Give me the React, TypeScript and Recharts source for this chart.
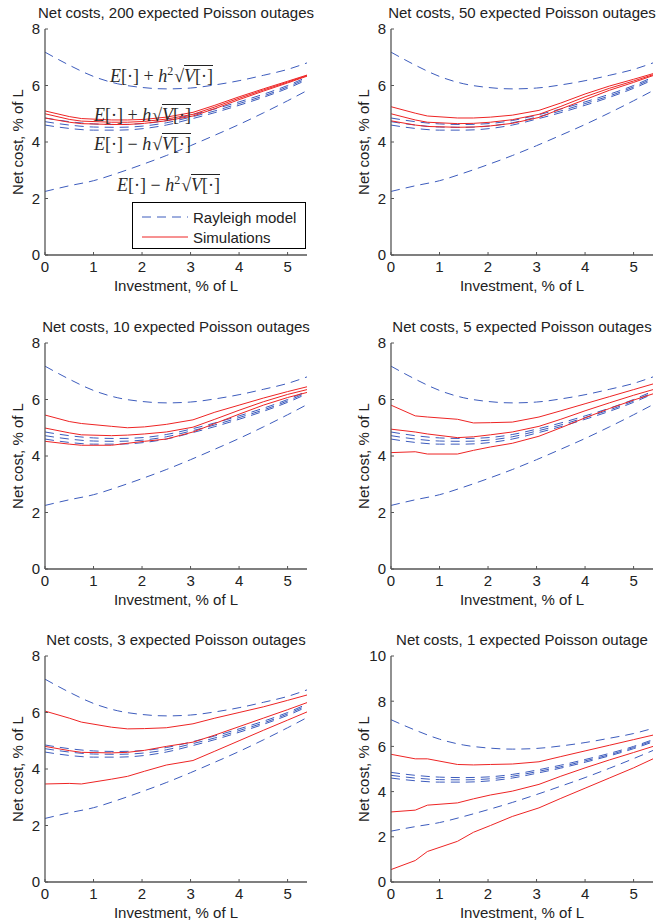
import { LineChart, Line, XAxis, YAxis, Legend } from 'recharts';

const FONT = '"Liberation Sans", Arial, Helvetica, sans-serif';
const MATH_FONT = '"Liberation Serif", "DejaVu Serif", serif';
const BLUE = '#3d5cbd';
const RED = '#ee2424';
const AXIS = '#555';
const INK = '#222';

// Rayleigh model curves (same in every panel)
const modelX = [0, 0.5, 1, 1.5, 2, 2.5, 3, 3.5, 4, 4.5, 5, 5.4];
const modelUpper2 = [7.18, 6.72, 6.32, 6.06, 5.93, 5.88, 5.91, 6.02, 6.17, 6.36, 6.57, 6.8];
const modelUpper1 = [4.85, 4.72, 4.64, 4.62, 4.65, 4.76, 4.95, 5.17, 5.42, 5.69, 6.0, 6.3];
const modelMean = [4.72, 4.6, 4.53, 4.52, 4.56, 4.68, 4.88, 5.1, 5.36, 5.63, 5.95, 6.25];
const modelLower1 = [4.6, 4.48, 4.42, 4.42, 4.47, 4.6, 4.81, 5.04, 5.3, 5.58, 5.9, 6.2];
const modelLower2 = [2.25, 2.45, 2.63, 2.9, 3.2, 3.52, 3.87, 4.24, 4.62, 5.03, 5.46, 5.82];

// Simulation curves
const simX = [0, 0.5, 0.75, 1.37, 1.7, 2.05, 2.5, 3.05, 3.5, 4, 4.5, 5, 5.4];

const sim200Hi = [5.1, 4.9, 4.83, 4.78, 4.78, 4.8, 4.88, 5.05, 5.3, 5.6, 5.88, 6.15, 6.37];
const sim200Mid = [5.0, 4.8, 4.74, 4.7, 4.7, 4.73, 4.81, 4.98, 5.24, 5.55, 5.84, 6.12, 6.35];
const sim200Lo = [4.85, 4.7, 4.65, 4.62, 4.62, 4.66, 4.75, 4.92, 5.18, 5.5, 5.8, 6.09, 6.33];

const sim50Hi = [5.25, 5.02, 4.92, 4.85, 4.85, 4.88, 4.95, 5.12, 5.38, 5.7, 5.98, 6.22, 6.42];
const sim50Mid = [5.0, 4.78, 4.7, 4.65, 4.66, 4.7, 4.79, 4.98, 5.26, 5.6, 5.9, 6.16, 6.38];
const sim50Lo = [4.75, 4.6, 4.55, 4.52, 4.53, 4.57, 4.66, 4.87, 5.17, 5.5, 5.83, 6.11, 6.35];

const sim10Hi = [5.45, 5.22, 5.15, 5.05, 5.0, 5.03, 5.12, 5.28, 5.55, 5.8, 6.05, 6.28, 6.45];
const sim10Mid = [4.99, 4.82, 4.75, 4.72, 4.74, 4.78, 4.85, 5.02, 5.3, 5.62, 5.92, 6.18, 6.35];
const sim10Lo = [4.52, 4.42, 4.38, 4.38, 4.45, 4.52, 4.6, 4.85, 5.15, 5.48, 5.8, 6.07, 6.25];

const sim5Hi = [5.8, 5.42, 5.38, 5.3, 5.17, 5.18, 5.2, 5.38, 5.6, 5.85, 6.1, 6.35, 6.55];
const sim5Mid = [4.95, 4.85, 4.78, 4.65, 4.68, 4.75, 4.85, 5.05, 5.3, 5.6, 5.88, 6.15, 6.35];
const sim5Lo = [4.12, 4.15, 4.07, 4.07, 4.2, 4.32, 4.45, 4.7, 5.0, 5.35, 5.68, 5.98, 6.2];

const sim3Hi = [6.05, 5.8, 5.66, 5.48, 5.42, 5.43, 5.46, 5.6, 5.8, 6.0, 6.2, 6.43, 6.62];
const sim3Mid = [4.8, 4.65, 4.59, 4.57, 4.59, 4.66, 4.8, 4.95, 5.2, 5.5, 5.8, 6.1, 6.35];
const sim3Lo = [3.47, 3.49, 3.47, 3.64, 3.74, 3.92, 4.14, 4.3, 4.63, 5.0, 5.37, 5.73, 6.02];

const sim1Hi = [5.65, 5.45, 5.45, 5.2, 5.18, 5.2, 5.22, 5.32, 5.55, 5.8, 6.05, 6.3, 6.5];
const sim1Mid = [3.1, 3.18, 3.4, 3.5, 3.68, 3.85, 4.02, 4.32, 4.68, 5.05, 5.4, 5.73, 6.0];
const sim1Lo = [0.55, 0.95, 1.35, 1.8, 2.2, 2.5, 2.9, 3.28, 3.7, 4.15, 4.6, 5.05, 5.45];

const xTicks = [0, 1, 2, 3, 4, 5];
const yTicks8 = [0, 2, 4, 6, 8];
const yTicks10 = [0, 2, 4, 6, 8, 10];

const modelData = modelX.map((x, i) => ({
  x,
  up2: modelUpper2[i],
  up1: modelUpper1[i],
  mean: modelMean[i],
  lo1: modelLower1[i],
  lo2: modelLower2[i],
}));

const makeSim = (hi: number[], mid: number[], lo: number[]) =>
  simX.map((x, i) => ({ x, hi: hi[i], mid: mid[i], lo: lo[i] }));

const CHART_W = 315;
const CHART_H = 295;
const M_TOP = 29;
const M_LEFT = 15;
const Y_W = 30;
const X_H = 40;
const PLOT_W = CHART_W - M_LEFT - Y_W - 8;
const PLOT_H = CHART_H - M_TOP - X_H;

const LegendBox = () => (
  <div
    style={{
      border: '1px solid #000',
      background: '#fff',
      boxSizing: 'border-box',
      height: 47,
      paddingTop: 4,
      fontFamily: FONT,
      fontSize: 15,
      color: INK,
    }}
  >
    {[
      { label: 'Rayleigh model', color: BLUE, dash: '9 6' },
      { label: 'Simulations', color: RED, dash: undefined },
    ].map((r) => (
      <div key={r.label} style={{ display: 'flex', alignItems: 'center', height: 20 }}>
        <svg width={60} height={10}>
          <line x1={9} x2={55} y1={5} y2={5} stroke={r.color} strokeDasharray={r.dash} />
        </svg>
        <span>{r.label}</span>
      </div>
    ))}
  </div>
);

interface PanelProps {
  title: string;
  left: number;
  top: number;
  hi: number[];
  mid: number[];
  lo: number[];
  yMax: number;
  yTicks: number[];
  legend?: boolean;
}

function Panel({ title, left, top, hi, mid, lo, yMax, yTicks, legend }: PanelProps) {
  const simData = makeSim(hi, mid, lo);
  const plotLeft = left + M_LEFT + Y_W;
  const plotTop = top + M_TOP;
  const cx = plotLeft + PLOT_W / 2;
  const cy = plotTop + PLOT_H / 2;
  const text = { position: 'absolute' as const, fontFamily: FONT, fontSize: 15, color: INK, whiteSpace: 'nowrap' as const };

  return (
    <>
      <div style={{ position: 'absolute', left, top }}>
        <LineChart width={CHART_W} height={CHART_H} margin={{ top: M_TOP, right: 8, bottom: 0, left: M_LEFT }}>
          <XAxis
            dataKey="x"
            type="number"
            domain={[0, 5.4]}
            ticks={xTicks}
            allowDataOverflow
            height={X_H}
            tickSize={-3}
            tickMargin={9}
            axisLine={{ stroke: AXIS, strokeWidth: 1.3 }}
            tickLine={{ stroke: AXIS }}
            tick={{ fontSize: 15, fill: INK, fontFamily: FONT }}
          />
          <YAxis
            type="number"
            domain={[0, yMax]}
            ticks={yTicks}
            allowDataOverflow
            width={Y_W}
            tickSize={-3}
            tickMargin={8}
            axisLine={{ stroke: AXIS, strokeWidth: 1.3 }}
            tickLine={{ stroke: AXIS }}
            tick={{ fontSize: 15, fill: INK, fontFamily: FONT }}
          />
          {['up2', 'up1', 'mean', 'lo1', 'lo2'].map((k) => (
            <Line
              key={k}
              data={modelData}
              dataKey={k}
              type="monotone"
              stroke={BLUE}
              strokeWidth={1}
              strokeDasharray="9 6"
              dot={false}
              isAnimationActive={false}
            />
          ))}
          {['hi', 'mid', 'lo'].map((k) => (
            <Line
              key={k}
              data={simData}
              dataKey={k}
              type="linear"
              stroke={RED}
              strokeWidth={1}
              dot={false}
              isAnimationActive={false}
            />
          ))}
          {legend && (
            <Legend
              layout="vertical"
              align="center"
              verticalAlign="middle"
              wrapperStyle={{ left: 132 - left, top: 202 - top, width: 174 }}
              content={() => <LegendBox />}
            />
          )}
        </LineChart>
      </div>
      <div style={{ ...text, left: cx - 170, width: 340, textAlign: 'center', top: plotTop - 25, lineHeight: '18px' }}>
        {title}
      </div>
      <div style={{ ...text, left: cx - 100, width: 200, textAlign: 'center', top: plotTop + PLOT_H + 22, lineHeight: '18px' }}>
        Investment, % of L
      </div>
      <div
        style={{
          ...text,
          left: plotLeft - 27 - 70,
          top: cy - 9,
          width: 140,
          textAlign: 'center',
          lineHeight: '18px',
          transform: 'rotate(-90deg)',
        }}
      >
        Net cost, % of L
      </div>
    </>
  );
}

const Sqrt = ({ sq }: { sq?: boolean }) => (
  <>
    <i>h</i>
    {sq && <sup style={{ fontSize: 12 }}>2</sup>}
    <span style={{ marginLeft: 1 }}>√</span>
    <span style={{ borderTop: '1.6px solid #222', paddingTop: 0 }}>
      <i>V</i>[·]
    </span>
  </>
);

const Note = ({ left, top, sign, sq }: { left: number; top: number; sign: string; sq?: boolean }) => (
  <div
    style={{
      position: 'absolute',
      left,
      top,
      fontFamily: MATH_FONT,
      fontSize: 18,
      color: '#2a2a2a',
      whiteSpace: 'nowrap',
      lineHeight: '20px',
    }}
  >
    <i>E</i>[·] {sign} <Sqrt sq={sq} />
  </div>
);

export default function App() {
  return (
    <div style={{ position: 'absolute', left: 0, top: 0, width: 656, height: 921, background: '#fff' }}>
      <Panel title="Net costs, 200 expected Poisson outages" left={0} top={0} hi={sim200Hi} mid={sim200Mid} lo={sim200Lo} yMax={8} yTicks={yTicks8} legend />
      <Panel title="Net costs, 50 expected Poisson outages" left={346} top={0} hi={sim50Hi} mid={sim50Mid} lo={sim50Lo} yMax={8} yTicks={yTicks8} />
      <Panel title="Net costs, 10 expected Poisson outages" left={0} top={314} hi={sim10Hi} mid={sim10Mid} lo={sim10Lo} yMax={8} yTicks={yTicks8} />
      <Panel title="Net costs, 5 expected Poisson outages" left={346} top={314} hi={sim5Hi} mid={sim5Mid} lo={sim5Lo} yMax={8} yTicks={yTicks8} />
      <Panel title="Net costs, 3 expected Poisson outages" left={0} top={627} hi={sim3Hi} mid={sim3Mid} lo={sim3Lo} yMax={8} yTicks={yTicks8} />
      <Panel title="Net costs, 1 expected Poisson outage" left={346} top={627} hi={sim1Hi} mid={sim1Mid} lo={sim1Lo} yMax={10} yTicks={yTicks10} />
      <Note left={110} top={61} sign="+" sq />
      <Note left={94} top={105} sign="+" />
      <Note left={94} top={134} sign="−" />
      <Note left={117} top={170} sign="−" sq />
    </div>
  );
}
